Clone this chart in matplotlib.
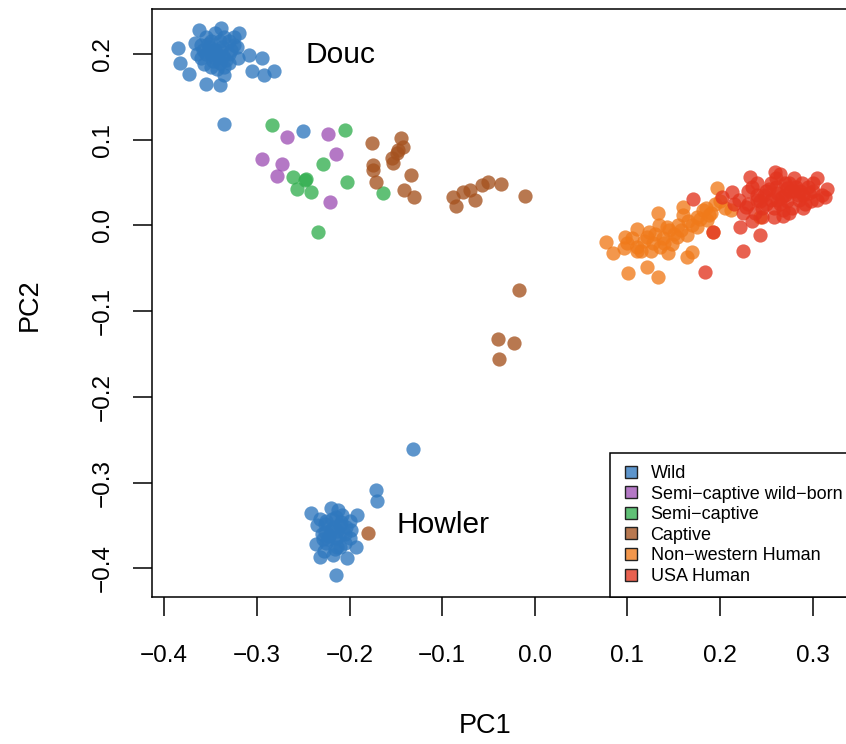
import numpy as np
import matplotlib
matplotlib.use("Agg")
import matplotlib.pyplot as plt
from matplotlib.lines import Line2D

plt.rcParams['font.family'] = ['Liberation Sans', 'DejaVu Sans']

# PCA scores per group (PC1, PC2)
wild_pc1 = [-0.385, -0.383, -0.373, -0.362, -0.367, -0.355, -0.339, -0.319, -0.308, -0.294,
            -0.282, -0.305, -0.292, -0.340, -0.336,
            -0.360, -0.355, -0.350, -0.345, -0.340, -0.335, -0.330, -0.325, -0.350, -0.340,
            -0.360, -0.345, -0.335, -0.355, -0.330, -0.320, -0.365, -0.345, -0.340, -0.350,
            -0.330, -0.325, -0.337, -0.352, -0.343,
            -0.357, -0.347, -0.338, -0.328, -0.342, -0.353, -0.333, -0.348, -0.358, -0.322,
            -0.3355, -0.250,
            -0.242, -0.192, -0.232, -0.203, -0.193, -0.2146,
            -0.225, -0.215, -0.210, -0.220, -0.230, -0.205, -0.215, -0.225, -0.210, -0.200,
            -0.235, -0.220, -0.212, -0.228, -0.218, -0.205, -0.198, -0.232, -0.222, -0.213,
            -0.227, -0.208, -0.236, -0.200,
            -0.217, -0.223, -0.209, -0.226, -0.214, -0.204, -0.219, -0.229, -0.211, -0.216,
            -0.171, -0.1707, -0.1315]
wild_pc2 = [0.207, 0.190, 0.177, 0.228, 0.213, 0.165, 0.230, 0.225, 0.199, 0.195,
            0.180, 0.180, 0.175, 0.164, 0.176,
            0.210, 0.200, 0.215, 0.195, 0.205, 0.220, 0.200, 0.210, 0.185, 0.190,
            0.195, 0.225, 0.185, 0.220, 0.215, 0.195, 0.200, 0.205, 0.215, 0.200,
            0.190, 0.220, 0.198, 0.208, 0.183,
            0.188, 0.192, 0.208, 0.205, 0.198, 0.212, 0.193, 0.203, 0.205, 0.208,
            0.118, 0.110,
            -0.335, -0.3375, -0.3865, -0.388, -0.3748, -0.4075,
            -0.345, -0.340, -0.350, -0.355, -0.360, -0.360, -0.365, -0.370, -0.375, -0.345,
            -0.350, -0.330, -0.332, -0.380, -0.385, -0.370, -0.355, -0.342, -0.362, -0.357,
            -0.348, -0.338, -0.372, -0.365,
            -0.352, -0.366, -0.346, -0.358, -0.375, -0.352, -0.342, -0.366, -0.362, -0.378,
            -0.309, -0.322, -0.261]

semi_wb_pc1 = [-0.2679, -0.2236, -0.2146, -0.2942, -0.2733, -0.2787, -0.2211]
semi_wb_pc2 = [0.1035, 0.1067, 0.083, 0.0775, 0.0713, 0.0577, 0.0273]

semi_pc1 = [-0.284, -0.2049, -0.2284, -0.2614, -0.2481, -0.2475, -0.257, -0.2416,
            -0.2024, -0.1636, -0.2337]
semi_pc2 = [0.1172, 0.1113, 0.0713, 0.0569, 0.053, 0.054, 0.0422, 0.0385,
            0.0501, 0.0378, -0.0073]

captive_pc1 = [-0.1754, -0.1448, -0.142, -0.1491, -0.1545, -0.1528, -0.175, -0.1744,
               -0.1718, -0.134, -0.1409, -0.1301, -0.1475,
               -0.088, -0.0851, -0.0772, -0.070, -0.0646, -0.0573, -0.0502, -0.0365,
               -0.0106, -0.0167, -0.040, -0.022, -0.039, -0.1798]
captive_pc2 = [0.0965, 0.1017, 0.0919, 0.0842, 0.0783, 0.0725, 0.0709, 0.0647,
               0.0503, 0.0584, 0.0413, 0.0334, 0.0880,
               0.0335, 0.0227, 0.0394, 0.0413, 0.0297, 0.0472, 0.051, 0.048,
               0.0347, -0.0753, -0.132, -0.137, -0.156, -0.3592]

nonwest_pc1 = [0.0768, 0.0847, 0.0963, 0.0974, 0.1106, 0.110, 0.1208, 0.1279, 0.1333,
               0.1344, 0.1424, 0.1441, 0.1532, 0.1603, 0.1603, 0.164, 0.1694, 0.164,
               0.1748, 0.1819, 0.1856, 0.1964, 0.1927, 0.1009, 0.1208, 0.1327, 0.2431,
               0.100, 0.115, 0.130, 0.125, 0.140, 0.150, 0.155, 0.170, 0.175, 0.185,
               0.195, 0.190, 0.205, 0.110, 0.135, 0.145, 0.165,
               0.105, 0.118, 0.138, 0.148, 0.158, 0.178, 0.188, 0.200, 0.212, 0.123]
nonwest_pc2 = [-0.019, -0.0325, -0.0267, -0.0131, -0.0045, -0.0248, -0.0131, -0.0208, 0.0142,
               0.0005, -0.0015, -0.0325, -0.0131, 0.0219, 0.0122, -0.0108, -0.0306, -0.0365,
               -0.0015, 0.018, 0.0064, 0.0433, -0.0072, -0.0558, -0.0481, -0.0605, 0.0102,
               -0.020, -0.030, -0.010, -0.030, -0.020, -0.010, 0.000, 0.000, 0.010, 0.020,
               0.025, 0.015, 0.020, -0.030, -0.025, -0.005, 0.005,
               -0.015, -0.018, -0.015, -0.022, -0.005, 0.008, 0.012, 0.028, 0.018, -0.008]

usa_pc1 = [0.1704, 0.1837, 0.2244, 0.2431, 0.1927, 0.2215, 0.2323, 0.3043, 0.3133,
           0.2898, 0.2683, 0.2018, 0.2125, 0.2593,
           0.220, 0.230, 0.240, 0.250, 0.260, 0.270, 0.280, 0.290, 0.300, 0.235,
           0.245, 0.255, 0.265, 0.275, 0.285, 0.295, 0.225, 0.240, 0.260, 0.270,
           0.280, 0.250, 0.262, 0.272, 0.282, 0.292, 0.305, 0.230, 0.215, 0.245,
           0.268, 0.255, 0.310, 0.300, 0.240, 0.258, 0.278, 0.288, 0.265, 0.235,
           0.248, 0.253, 0.267, 0.276, 0.284, 0.296, 0.243, 0.228, 0.258, 0.272,
           0.286, 0.262, 0.238, 0.298, 0.315, 0.275]
usa_pc2 = [0.0305, -0.054, -0.0295, -0.0112, -0.0073, -0.0015, 0.0569, 0.055, 0.0335,
           0.020, 0.0105, 0.0335, 0.0394, 0.0627,
           0.030, 0.025, 0.035, 0.040, 0.045, 0.035, 0.040, 0.035, 0.040, 0.045,
           0.020, 0.030, 0.025, 0.050, 0.030, 0.045, 0.015, 0.050, 0.055, 0.050,
           0.055, 0.025, 0.038, 0.028, 0.045, 0.025, 0.030, 0.040, 0.025, 0.010,
           0.018, 0.050, 0.035, 0.050, 0.030, 0.020, 0.020, 0.050, 0.060, 0.005,
           0.035, 0.043, 0.033, 0.040, 0.036, 0.038, 0.028, 0.022, 0.010, 0.044,
           0.040, 0.030, 0.015, 0.028, 0.042, 0.015]

group_names = ["Wild", "Semi\u2212captive wild\u2212born", "Semi\u2212captive", "Captive",
               "Non\u2212western Human", "USA Human"]
group_colors = ["#2F78BE", "#9F52B5", "#33AF50", "#A5521F", "#F07A1A", "#E2351F"]
groups = [(wild_pc1, wild_pc2), (semi_wb_pc1, semi_wb_pc2), (semi_pc1, semi_pc2),
          (captive_pc1, captive_pc2), (nonwest_pc1, nonwest_pc2), (usa_pc1, usa_pc2)]

fig = plt.figure(figsize=(8.46, 7.44), dpi=100)
ax = fig.add_axes([0.18, 0.198, 0.8247, 0.790])

for (pc1, pc2), col in zip(groups, group_colors):
    ax.scatter(pc1, pc2, s=105, color=col, alpha=0.78, linewidths=0, zorder=2)

ax.text(-0.248, 0.1988, "Douc", fontsize=21.5, va='center', ha='left')
ax.text(-0.1488, -0.3495, "Howler", fontsize=21.5, va='center', ha='left')

xt = np.round(np.arange(-0.4, 0.31, 0.1), 1)
yt = np.round(np.arange(-0.4, 0.21, 0.1), 1)
ax.set_xlim(-0.41295, 0.3403)
ax.set_ylim(-0.4331, 0.2525)
ax.set_xticks(xt)
ax.set_yticks(yt)
ax.set_xticklabels([("%.1f" % (v + 0.0)).replace("-", "\u2212") for v in xt])
ax.set_yticklabels([("%.1f" % (v + 0.0)).replace("-", "\u2212") for v in yt],
                   rotation=90, va='center')
ax.tick_params(length=13.5, width=1.1, labelsize=17.5, direction='out')
ax.tick_params(axis='x', pad=21)
ax.tick_params(axis='y', pad=14)
for sp in ax.spines.values():
    sp.set_linewidth(1.1)

fig.text(485 / 846, 1 - 726 / 744, "PC1", fontsize=19.5, ha='center', va='center')
fig.text(30 / 846, 1 - 305 / 744, "PC2", fontsize=19.5, ha='center', va='center', rotation=90)

handles = [Line2D([], [], marker='s', linestyle='none', markersize=8,
                  markerfacecolor=matplotlib.colors.to_rgba(c, 0.78),
                  markeredgecolor='#222222', markeredgewidth=1.0) for c in group_colors]
leg = ax.legend(handles, group_names, loc='lower left', bbox_to_anchor=(0.656, 0.0, 0.5, 0.3),
                mode='expand', borderaxespad=0, fancybox=False, framealpha=1,
                edgecolor='black', fontsize=13, labelspacing=0.2, handletextpad=0.6,
                handlelength=1.0, borderpad=0.65)
leg.get_frame().set_linewidth(1.1)

fig.savefig("out.png", dpi=100)
